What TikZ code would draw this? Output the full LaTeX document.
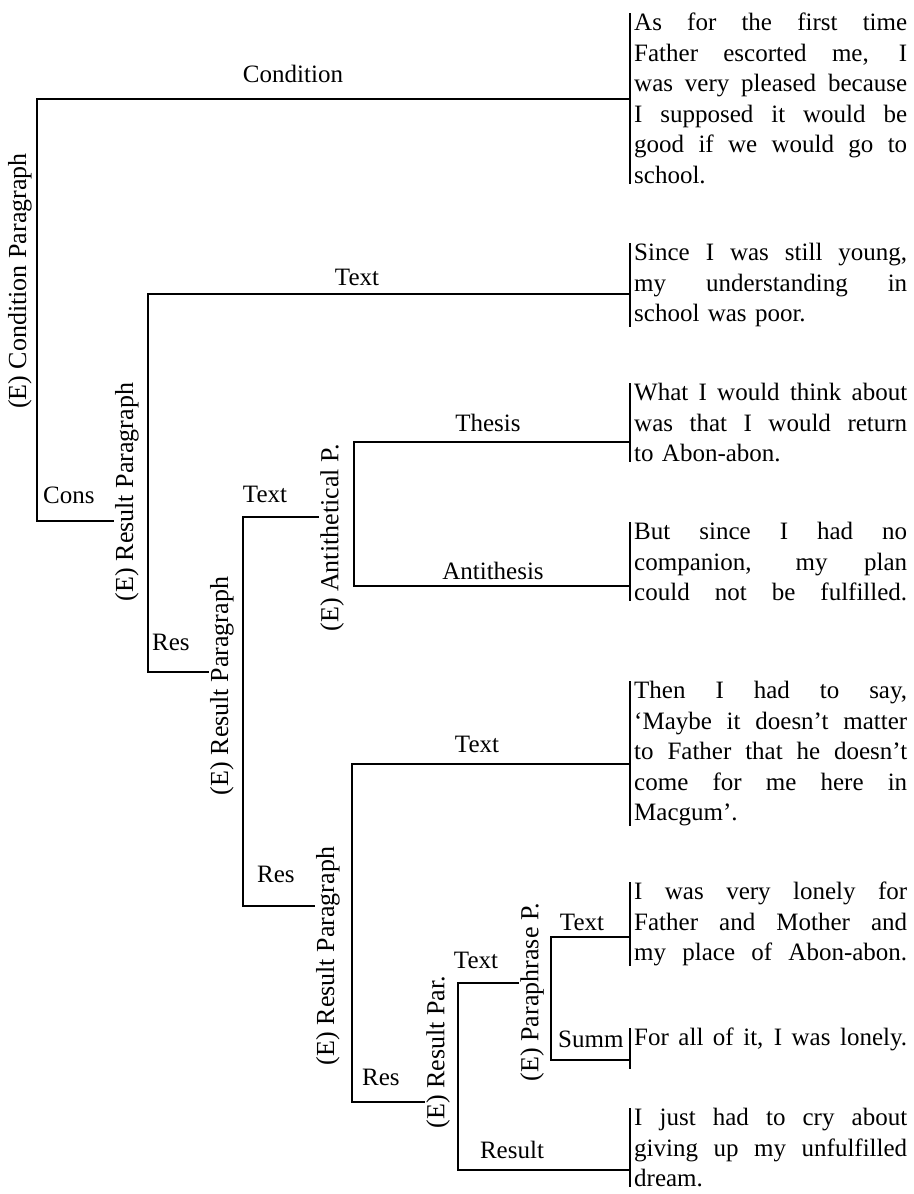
\documentclass[tikz,border=0pt]{standalone}
\usepackage{fontspec}
\setmainfont{Liberation Serif}
\newlength{\leafw}
\setlength{\leafw}{273pt}
\newcommand{\jline}[1]{{\spaceskip=0pt\xspaceskip=0pt\makebox[\leafw][s]{#1}}}
\tikzset{
  branch/.style={line width=2.4pt},
  leafbar/.style={line width=2.8pt},
  lab/.style={font=\fontsize{25}{30}\selectfont, inner sep=0pt, anchor=base},
  vlab/.style={font=\fontsize{26}{30}\selectfont, rotate=90, inner sep=1pt},
  leaf/.style={font=\fontsize{25}{30.5}\selectfont, text width=\leafw, align=left,
    inner xsep=4pt, inner ysep=0pt, anchor=north west},
}
\begin{document}
\begin{tikzpicture}[x=1pt, y=-1pt]
        \useasboundingbox (0,0) rectangle (913,1194);
        \node[leaf] (l1) at (630,13) {\jline{As for the first time}\\ \jline{Father escorted me, I}\\ \jline{was very pleased because}\\ \jline{I supposed it would be}\\ \jline{good if we would go to}\\ school.};
        \node[leaf] (l2) at (630,243) {\jline{Since I was still young,}\\ \jline{my understanding in}\\ school was poor.};
        \node[leaf] (l3) at (630,383) {\jline{What I would think about}\\ \jline{was that I would return}\\ to Abon-abon.};
        \node[leaf] (l4) at (630,522) {\jline{But since I had no}\\ \jline{companion, my plan}\\ \jline{could not be fulfilled.}};
        \node[leaf] (l5) at (630,681) {\jline{Then I had to say,}\\ \jline{`Maybe it doesn't matter}\\ \jline{to Father that he doesn't}\\ \jline{come for me here in}\\ Macgum'.};
        \node[leaf] (l6) at (630,882) {\jline{I was very lonely for}\\ \jline{Father and Mother and}\\ \jline{my place of Abon-abon.}};
        \node[leaf] (l7) at (630,1028) {\jline{For all of it, I was lonely.}};
        \node[leaf] (l8) at (630,1108) {\jline{I just had to cry about}\\ \jline{giving up my unfulfilled}\\ dream.};
        \draw[leafbar] (l1.north west) -- (l1.south west);
        \draw[leafbar] (l2.north west) -- (l2.south west);
        \draw[leafbar] (l3.north west) -- (l3.south west);
        \draw[leafbar] (l4.north west) -- (l4.south west);
        \draw[leafbar] (l5.north west) -- (l5.south west);
        \draw[leafbar] (l6.north west) -- (l6.south west);
        \draw[leafbar] (l7.north west) -- ++(0,41);
        \draw[leafbar] (l8.north west) -- (l8.south west);
        \node[vlab] (r0lab) at (20,281) {(E) Condition Paragraph};
        \node[vlab] (r1lab) at (127,492) {(E) Result Paragraph};
        \node[vlab] (r2lab) at (222,686) {(E) Result Paragraph};
        \node[vlab] (alab) at (332,538) {(E) Antithetical P.};
        \node[vlab] (r3lab) at (328,956) {(E) Result Paragraph};
        \node[vlab] (r4lab) at (438,1052) {(E) Result Par.};
        \node[vlab] (plab) at (532,992) {(E) Paraphrase P.};
        \node[lab] (condition) at (293,82) {Condition};
        \node[lab, anchor=base west] (cons) at (43,503) {Cons};
        \node[lab] (text1) at (357,285) {Text};
        \node[lab, anchor=base west] (res1) at (152,650) {Res};
        \node[lab] (text2) at (265,502) {Text};
        \node[lab, anchor=base west] (res2) at (257,882) {Res};
        \node[lab] (thesis) at (488,431) {Thesis};
        \node[lab] (antithesis) at (493,579) {Antithesis};
        \node[lab] (text3) at (477,752) {Text};
        \node[lab, anchor=base west] (res3) at (362,1085) {Res};
        \node[lab] (text4) at (476,968) {Text};
        \node[lab] (result) at (512,1158) {Result};
        \node[lab] (text5) at (582,930) {Text};
        \node[lab, anchor=base west] (summ) at (558,1047) {Summ};
        \coordinate (r0t) at (37,99);
        \coordinate (r0b) at (37,521);
        \coordinate (r1t) at (148,294);
        \coordinate (r1b) at (148,672);
        \coordinate (r2t) at (243,517);
        \coordinate (r2b) at (243,906);
        \coordinate (at) at (354,442);
        \coordinate (ab) at (354,586);
        \coordinate (r3t) at (352,764);
        \coordinate (r3b) at (352,1102);
        \coordinate (r4t) at (458,983);
        \coordinate (r4b) at (458,1170);
        \coordinate (pt) at (551,937);
        \coordinate (pb) at (551,1060);
        \draw[branch] (r0t -| l1.west) -- (r0t) -- (r0b) -- (r0b -| r1lab.north);
        \draw[branch] (r1t -| l2.west) -- (r1t) -- (r1b) -- (r1b -| r2lab.north);
        \draw[branch] (r2t -| alab.north) -- (r2t) -- (r2b) -- (r2b -| r3lab.north);
        \draw[branch] (at -| l3.west) -- (at) -- (ab) -- (ab -| l4.west);
        \draw[branch] (r3t -| l5.west) -- (r3t) -- (r3b) -- (r3b -| r4lab.north);
        \draw[branch] (r4t -| plab.north) -- (r4t) -- (r4b) -- (r4b -| l8.west);
        \draw[branch] (pt -| l6.west) -- (pt) -- (pb) -- (pb -| l7.west);
    \end{tikzpicture}
\end{document}
